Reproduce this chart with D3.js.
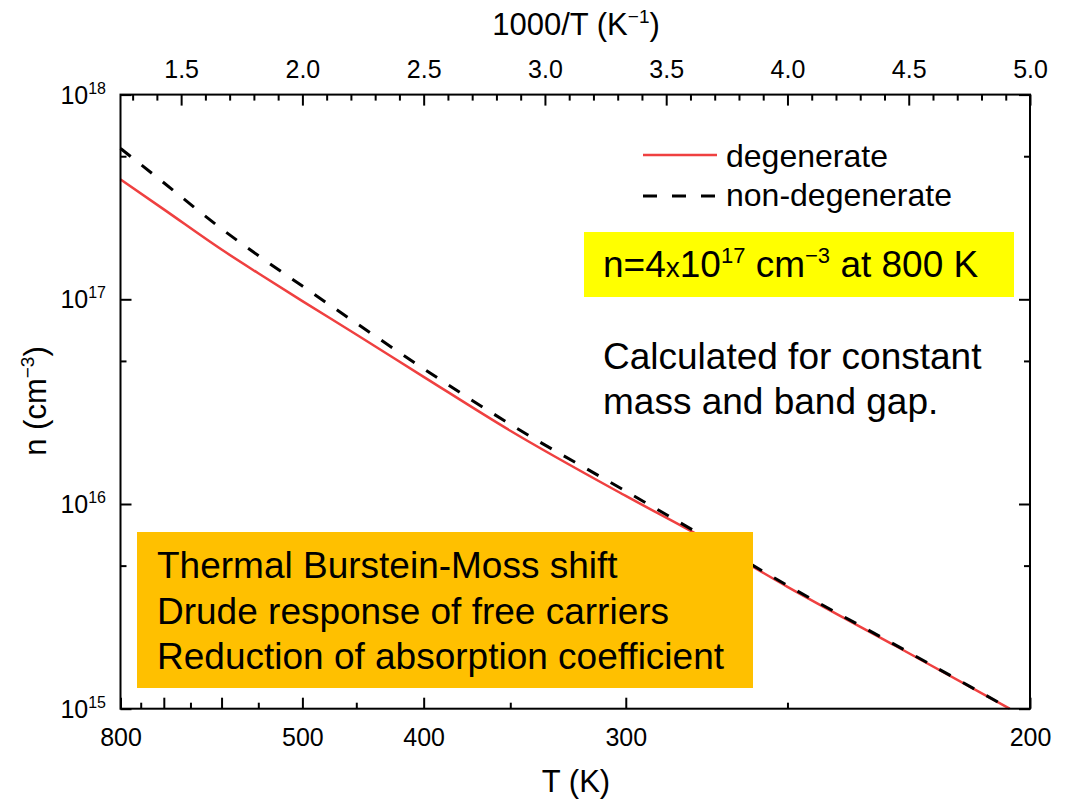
<!DOCTYPE html>
<html><head><meta charset="utf-8">
<script src="https://cdn.jsdelivr.net/npm/d3@7"></script>
<style>
html,body{margin:0;padding:0;background:#fff;}
svg text{font-family:"Liberation Sans",Arial,sans-serif;fill:#000;}
</style></head>
<body><svg id="c" width="1069" height="801"></svg>
<script>
// ---- data ----
const temperatures = [800, 700, 600, 550, 500, 450, 400, 350, 300, 275, 250, 225, 203.4];
const nDegenerate = [3.85e17, 2.75e17, 1.75e17, 1.34e17, 9.8e16, 6.73e16, 4.18e16, 2.28e16, 1.095e16, 7.0e15, 3.94e15, 2.03e15, 1.0e15];
const nNonDegenerate = [5.46e17, 3.71e17, 2.21e17, 1.635e17, 1.16e17, 7.64e16, 4.58e16, 2.45e16, 1.155e16, 7.15e15, 4.0e15, 2.05e15, 1.0e15];
const seriesNames = ["degenerate", "non-degenerate"];
const bottomMajorT = [800, 700, 600, 500, 400, 300, 200];
const bottomLabelT = [800, 500, 400, 300, 200];
const bottomMinorT = [750, 650, 550, 450, 350, 250];
const topMajor = [1.5, 2.0, 2.5, 3.0, 3.5, 4.0, 4.5, 5.0];
const topMinor = [1.3, 1.4, 1.6, 1.7, 1.8, 1.9, 2.1, 2.2, 2.3, 2.4, 2.6, 2.7, 2.8, 2.9, 3.1, 3.2, 3.3, 3.4, 3.6, 3.7, 3.8, 3.9, 4.1, 4.2, 4.3, 4.4, 4.6, 4.7, 4.8, 4.9];
const yMajor = [1e15, 1e16, 1e17, 1e18];
const yMinor = [5e15, 5e16, 5e17];
const boxLines = ["Thermal Burstein-Moss shift", "Drude response of free carriers", "Reduction of absorption coefficient"];
const noteLines = ["Calculated for constant", "mass and band gap."];

const svg = d3.select("#c");
const L = 120.5, R = 1030, T = 94.6, B = 708.7;
const x = d3.scaleLinear().domain([1.25, 5.0]).range([L, R]);
const y = d3.scaleLog().domain([1e15, 1e18]).range([B, T]);
const inv = t => 1000 / t;

// ---- curves ----
const line = d3.line().x(d => x(inv(d[0]))).y(d => y(d[1])).curve(d3.curveMonotoneX);
const degPts = temperatures.map((t, i) => [t, nDegenerate[i]]);
const ndPts = temperatures.map((t, i) => [t, nNonDegenerate[i]]);
svg.append("path").attr("d", line(degPts)).attr("fill", "none").attr("stroke", "#ef4040").attr("stroke-width", 2.5);
svg.append("path").attr("d", line(ndPts)).attr("fill", "none").attr("stroke", "#000").attr("stroke-width", 3).attr("stroke-dasharray", "13,14");

// ---- axes ----
function styleAxis(g){ g.select(".domain").remove(); g.selectAll("line").attr("stroke", "#000").attr("stroke-width", 2); }
// bottom
svg.append("g").attr("transform", `translate(0,${B})`)
  .call(d3.axisBottom(x).tickValues(bottomMajorT.map(inv)).tickSize(-11).tickPadding(20)
    .tickFormat(v => { const t = Math.round(1000 / v); return bottomLabelT.includes(t) ? String(t) : ""; }))
  .call(styleAxis).call(g => g.selectAll("text").attr("font-size", 25).attr("fill", "#000"));
svg.append("g").attr("transform", `translate(0,${B})`)
  .call(d3.axisBottom(x).tickValues(bottomMinorT.map(inv)).tickSize(-6).tickFormat(""))
  .call(styleAxis);
// top
svg.append("g").attr("transform", `translate(0,${T})`)
  .call(d3.axisTop(x).tickValues(topMajor).tickSize(-11).tickPadding(17).tickFormat(d3.format(".1f")))
  .call(styleAxis).call(g => g.selectAll("text").attr("font-size", 25).attr("fill", "#000"));
svg.append("g").attr("transform", `translate(0,${T})`)
  .call(d3.axisTop(x).tickValues(topMinor).tickSize(-6).tickFormat(""))
  .call(styleAxis);
// left / right ticks
[[d3.axisLeft, L], [d3.axisRight, R]].forEach(([ax, pos]) => {
  svg.append("g").attr("transform", `translate(${pos},0)`)
    .call(ax(y).tickValues(yMajor).tickSize(-11).tickFormat("")).call(styleAxis);
  svg.append("g").attr("transform", `translate(${pos},0)`)
    .call(ax(y).tickValues(yMinor).tickSize(-6).tickFormat("")).call(styleAxis);
});
// left labels 10^n
yMajor.forEach(v => {
  const e = Math.round(Math.log10(v));
  const t = svg.append("text").attr("x", 106).attr("y", y(v) + 9).attr("text-anchor", "end").attr("font-size", 25);
  t.append("tspan").text("10");
  t.append("tspan").attr("dy", -10).attr("font-size", 16).text(String(e));
});
// frame
svg.append("rect").attr("x", L).attr("y", T).attr("width", R - L).attr("height", B - T)
  .attr("fill", "none").attr("stroke", "#000").attr("stroke-width", 2);

// axis titles
const tt = svg.append("text").attr("x", 576).attr("y", 35).attr("text-anchor", "middle").attr("font-size", 31);
tt.append("tspan").text("1000/T (K");
tt.append("tspan").attr("dy", -12).attr("font-size", 19).text("\u22121");
tt.append("tspan").attr("dy", 12).text(")");
svg.append("text").attr("x", 576).attr("y", 792).attr("text-anchor", "middle").attr("font-size", 31).text("T (K)");
const yl = svg.append("text").attr("transform", "translate(46,401) rotate(-90)").attr("text-anchor", "middle").attr("font-size", 31);
yl.append("tspan").text("n (cm");
yl.append("tspan").attr("dy", -12).attr("font-size", 19).text("\u22123");
yl.append("tspan").attr("dy", 12).text(")");

// legend
svg.append("line").attr("x1", 643).attr("x2", 717).attr("y1", 155).attr("y2", 155).attr("stroke", "#ef4040").attr("stroke-width", 2.5);
svg.append("line").attr("x1", 643).attr("x2", 717).attr("y1", 196).attr("y2", 196).attr("stroke", "#000").attr("stroke-width", 3).attr("stroke-dasharray", "14,15");
svg.append("text").attr("x", 726).attr("y", 166.5).attr("font-size", 32).text(seriesNames[0]);
svg.append("text").attr("x", 726).attr("y", 206).attr("font-size", 32).text(seriesNames[1]);

// yellow box
svg.append("rect").attr("x", 584).attr("y", 232).attr("width", 430).attr("height", 65).attr("fill", "#ffff00");
const yt = svg.append("text").attr("x", 603).attr("y", 277).attr("font-size", 37);
yt.append("tspan").text("n=4");
yt.append("tspan").attr("font-size", 28).text("x");
yt.append("tspan").text("10");
yt.append("tspan").attr("dy", -14).attr("font-size", 22).text("17");
yt.append("tspan").attr("dy", 14).text(" cm");
yt.append("tspan").attr("dy", -14).attr("font-size", 22).text("\u22123");
yt.append("tspan").attr("dy", 14).text(" at 800 K");

// note
noteLines.forEach((s, i) => svg.append("text").attr("x", 603).attr("y", 368.5 + i * 45).attr("font-size", 37).text(s));

// orange box
svg.append("rect").attr("x", 137).attr("y", 532).attr("width", 616).attr("height", 156).attr("fill", "#ffc000");
boxLines.forEach((s, i) => svg.append("text").attr("x", 157).attr("y", 578 + i * 45.5).attr("font-size", 37).text(s));
</script></body></html>
